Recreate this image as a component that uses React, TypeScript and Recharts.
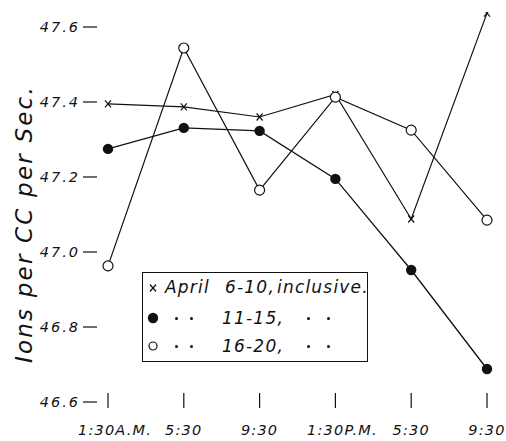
import React from "react";
import { LineChart, Line, XAxis, YAxis, Legend, Label } from "recharts";

// readings: ions per cc per sec, by time of day
const times = ["1:30A.M.", "5:30", "9:30", "1:30P.M.", "5:30", "9:30"];
const april6to10 = [47.395, 47.387, 47.36, 47.42, 47.088, 47.637];
const april11to15 = [47.275, 47.331, 47.323, 47.195, 46.952, 46.688];
const april16to20 = [46.963, 47.544, 47.165, 47.413, 47.325, 47.085];
const yTicks = [46.6, 46.8, 47.0, 47.2, 47.4, 47.6];
const legendDates = ["6-10,", "11-15,", "16-20,"];

const FONT = "'DejaVu Sans', sans-serif";
const INK = "#111";

// the chart fills the whole window
if (typeof document !== "undefined") document.body.style.margin = "0";

const data = times.map((t, i) => ({
  i,
  t,
  a: april6to10[i],
  b: april11to15[i],
  c: april16to20[i],
}));

function CrossDot(props: any) {
  const { cx, cy } = props;
  if (cx == null || cy == null) return null;
  return (
    <g stroke={INK} strokeWidth={1.2}>
      <line x1={cx - 3} y1={cy - 3.5} x2={cx + 3} y2={cy + 3.5} />
      <line x1={cx + 3} y1={cy - 3.5} x2={cx - 3} y2={cy + 3.5} />
    </g>
  );
}

function FilledDot(props: any) {
  const { cx, cy } = props;
  if (cx == null || cy == null) return null;
  return <circle cx={cx} cy={cy} r={5.2} fill={INK} />;
}

function OpenDot(props: any) {
  const { cx, cy } = props;
  if (cx == null || cy == null) return null;
  return <circle cx={cx} cy={cy} r={5} fill="#fff" stroke={INK} strokeWidth={1.2} />;
}

function YTick(props: any) {
  const { x, y, payload } = props;
  return (
    <g>
      <line x1={x - 25} x2={x - 11} y1={y} y2={y} stroke={INK} strokeWidth={1.2} />
      <text
        x={x - 28}
        y={y}
        dy={5}
        textAnchor="end"
        fontFamily={FONT}
        fontStyle="italic"
        fontSize={14.5}
        letterSpacing={2}
        fill={INK}
      >
        {Number(payload.value).toFixed(1)}
      </text>
    </g>
  );
}

function XTick(props: any) {
  const { x, y, payload } = props;
  const label = times[payload.value];
  const long = label.length > 4;
  return (
    <g>
      <line x1={x} x2={x} y1={y - 9} y2={y + 6} stroke={INK} strokeWidth={1.2} />
      <text
        x={long ? x + 7 : x}
        y={y + 33}
        textAnchor="middle"
        fontFamily={FONT}
        fontStyle="italic"
        fontSize={14.5}
        letterSpacing={1.2}
        fill={INK}
      >
        {label}
      </text>
    </g>
  );
}

function LegendBox() {
  const dot = (left: number, top: number) => (
    <span
      style={{
        position: "absolute",
        left: left - 1.5,
        top: top - 1.5,
        width: 3.5,
        height: 3.5,
        borderRadius: 2,
        background: INK,
      }}
    />
  );
  const rows = [14, 45, 73];
  const text = (left: number, top: number, s: string) => (
    <span
      style={{
        position: "absolute",
        left,
        top: top - 11,
        lineHeight: "22px",
        whiteSpace: "nowrap",
        letterSpacing: 1.2,
      }}
    >
      {s}
    </span>
  );
  return (
    <div
      style={{
        position: "relative",
        width: 224,
        height: 88,
        border: `1.5px solid ${INK}`,
        background: "#fff",
        fontFamily: FONT,
        fontStyle: "italic",
        fontSize: 17,
        color: INK,
      }}
    >
      <svg style={{ position: "absolute", left: 0, top: 0 }} width={30} height={88}>
        <CrossDot cx={10} cy={rows[0] + 1} />
        <FilledDot cx={10} cy={rows[1]} />
        <circle cx={10} cy={rows[2]} r={4} fill="#fff" stroke={INK} strokeWidth={1.2} />
      </svg>
      {text(22, rows[0], "April")}
      {dot(33, rows[1])}
      {dot(48, rows[1])}
      {dot(33, rows[2])}
      {dot(48, rows[2])}
      {text(82, rows[0], legendDates[0])}
      {text(79, rows[1], legendDates[1])}
      {text(79, rows[2], legendDates[2])}
      {text(134, rows[0], "inclusive.")}
      {dot(165, rows[1])}
      {dot(185, rows[1])}
      {dot(165, rows[2])}
      {dot(185, rows[2])}
    </div>
  );
}

export default function App() {
  return (
    <div style={{ width: 506, height: 441, background: "#fff" }}>
      <LineChart
        width={506}
        height={441}
        data={data}
        margin={{ top: 12, right: 19, left: 0, bottom: 0 }}
      >
        <XAxis
          type="number"
          dataKey="i"
          domain={[0, 5]}
          ticks={[0, 1, 2, 3, 4, 5]}
          axisLine={false}
          tickLine={false}
          tickSize={0}
          tickMargin={0}
          height={39}
          tick={<XTick />}
          interval={0}
        />
        <YAxis
          type="number"
          domain={[46.6, 47.64]}
          ticks={yTicks}
          allowDataOverflow
          axisLine={false}
          tickLine={false}
          tickSize={0}
          tickMargin={0}
          width={108}
          tick={<YTick />}
          interval={0}
        >
          <Label
            content={() => (
              <text
                x={24}
                y={224}
                transform="rotate(-90, 24, 224)"
                textAnchor="middle"
                dominantBaseline="central"
                fontFamily={FONT}
                fontStyle="italic"
                fontWeight={300}
                fontSize={23}
                letterSpacing={2.2}
                fill={INK}
              >
                Ions per CC per Sec.
              </text>
            )}
          />
        </YAxis>
        <Legend
          layout="horizontal"
          verticalAlign="middle"
          align="center"
          content={() => <LegendBox />}
          wrapperStyle={{ position: "absolute", left: 142, top: 272, width: 226, height: 90 }}
        />
        <Line
          dataKey="a"
          stroke={INK}
          strokeWidth={1.2}
          dot={<CrossDot />}
          activeDot={false}
          isAnimationActive={false}
        />
        <Line
          dataKey="b"
          stroke={INK}
          strokeWidth={1.3}
          dot={<FilledDot />}
          activeDot={false}
          isAnimationActive={false}
        />
        <Line
          dataKey="c"
          stroke={INK}
          strokeWidth={1.2}
          dot={<OpenDot />}
          activeDot={false}
          isAnimationActive={false}
        />
      </LineChart>
    </div>
  );
}
